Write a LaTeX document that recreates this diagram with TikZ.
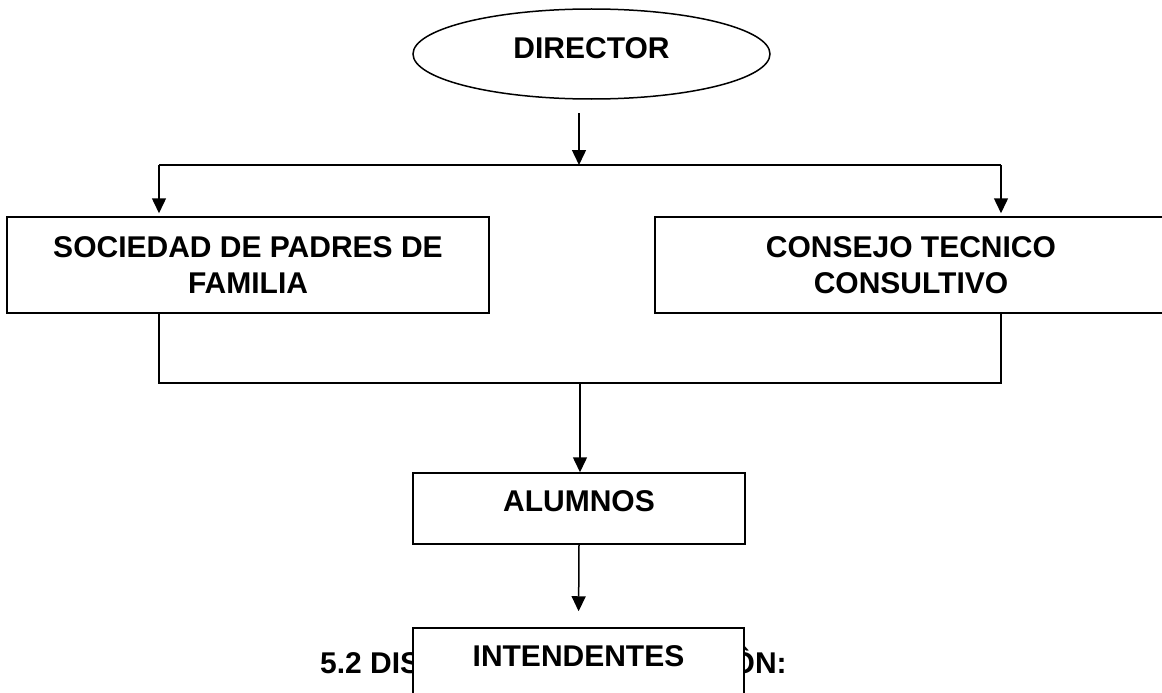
\documentclass[tikz,border=0pt]{standalone}
\usepackage{fontspec}
\setmainfont{Liberation Sans}
\usetikzlibrary{arrows.meta,shapes.geometric}
\begin{document}
\begin{tikzpicture}[x=1pt,y=-1pt,
  every node/.style={font=\fontsize{30}{36}\selectfont\bfseries},
  box/.style={draw,line width=1.5pt,fill=white,inner sep=0pt,align=center},
  conn/.style={line width=1.5pt},
  arr/.style={conn,-{Triangle[length=15pt,width=14pt]}}]
\useasboundingbox (0,0) rectangle (1162,693);
\clip (0,0) rectangle (1162,693);
\fill[white] (0,0) rectangle (1162,693);

% heading partly hidden behind the last box
\node[anchor=base west,inner sep=0pt] (secA) at (320,673) {5.2 DIS};
\node[anchor=base west,inner sep=0pt] (secB) at (731.5,673) {ÔN:};

\node[ellipse,draw,line width=1.5pt,inner sep=0pt,minimum width=357pt,minimum height=90pt,text depth=11pt] (dir) at (591.5,54) {DIRECTOR};
\node[box,minimum width=482pt,minimum height=96pt] (soc) at (248,265) {SOCIEDAD DE PADRES DE\\FAMILIA};
\node[box,minimum width=512pt,minimum height=96pt] (con) at (911,265) {CONSEJO TECNICO\\CONSULTIVO};
\node[box,minimum width=332pt,minimum height=71pt,text depth=15pt] (alu) at (579,508.5) {ALUMNOS};
\node[box,minimum width=331pt,minimum height=71pt,text depth=15pt] (int) at (578.5,663.5) {INTENDENTES};

\coordinate (d1) at (579,113);
\coordinate (j1) at (579,165);
\coordinate (l1) at (159,165);
\coordinate (r1) at (1001,165);
\coordinate (l2) at (159,383);
\coordinate (r2) at (1001,383);
\coordinate (j2) at (580,383);

\draw[arr] (d1) -- (j1);
\draw[conn] (l1) -- (r1);
\draw[arr,shorten >=3pt] (l1) -- (l1 |- soc.north);
\draw[arr,shorten >=3pt] (r1) -- (r1 |- con.north);
\draw[conn] (l1 |- soc.south) -- (l2) -- (r2) -- (r1 |- con.south);
\draw[arr] (j2) -- (j2 |- alu.north);
\draw[arr,shorten >=16pt] (alu.south) -- (int.north);
\end{tikzpicture}
\end{document}
